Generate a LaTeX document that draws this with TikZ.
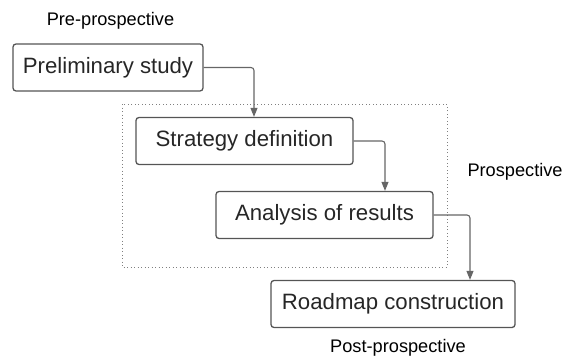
\documentclass[tikz,border=0pt]{standalone}
\usepackage{fontspec}
\usepackage{tikz}
\usepackage{xcolor}
\usetikzlibrary{arrows.meta}
\setmainfont{Liberation Sans}

\definecolor{boxline}{HTML}{555555}
\definecolor{flowline}{HTML}{666666}
\definecolor{labeltext}{HTML}{262626}

\tikzset{
    stage/.style={draw=boxline,line width=1.3pt,rounded corners=3pt,inner sep=0pt,
        minimum height=47pt,text=labeltext,font=\fontsize{22.2}{25}\selectfont},
    flow/.style={draw=flowline,line width=1.1pt,rounded corners=3pt,-{Triangle[length=9pt,width=7pt]}},
    phase/.style={font=\fontsize{18.2}{20}\selectfont,text=black}
}

\begin{document}
\begin{tikzpicture}[x=1pt,y=-1pt]
        \useasboundingbox (0,0) rectangle (563,356);
        \draw[line width=1pt,dash pattern=on 1pt off 2.5pt,gray] (122,104) rectangle (447,267);

        \node[stage,minimum width=190pt] (prelim) at (108,67.5) {Preliminary study};
        \node[stage,minimum width=217pt] (strat) at (244.5,141) {Strategy definition};
        \node[stage,minimum width=217pt] (analysis) at (324.5,215) {Analysis of results};
        \node[stage,minimum width=244pt] (roadmap) at (393,304) {Roadmap construction};

        \node[phase] (pre) at (110.5,21) {Pre-prospective};
        \node[phase,anchor=west] (pro) at (464,172) {Prospective};
        \node[phase] (post) at (398,348) {Post-prospective};

        \draw[flow] (prelim.east) -| ([xshift=9.5pt]strat.north);
        \draw[flow] (strat.east) -| ([xshift=60.5pt]analysis.north);
        \draw[flow] (analysis.east) -| ([xshift=77pt]roadmap.north);
    \end{tikzpicture}
\end{document}
